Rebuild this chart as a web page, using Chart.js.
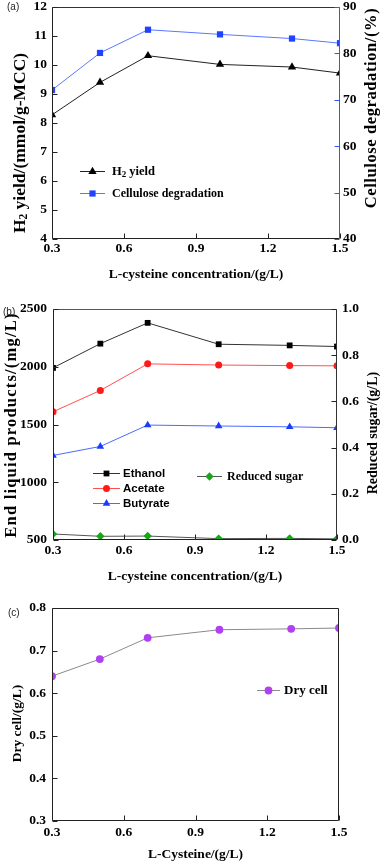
<!DOCTYPE html>
<html><head><meta charset="utf-8">
<script src="https://cdn.jsdelivr.net/npm/chart.js@4/dist/chart.umd.min.js"></script>
<style>
html,body{margin:0;padding:0;background:#fff;}
body{width:380px;height:863px;position:relative;overflow:hidden;}
canvas{position:absolute;left:0;display:block;}
</style></head><body>
<canvas id="cA" width="380" height="290" style="top:0px"></canvas>
<canvas id="cB" width="380" height="295" style="top:290px"></canvas>
<canvas id="cC" width="380" height="280" style="top:583px"></canvas>
<script>
// ---------- data ----------
const concentrations = [0.3, 0.5, 0.7, 1.0, 1.3, 1.5];
const xTickValues = [0.3, 0.6, 0.9, 1.2, 1.5];

const h2Yield = [8.28, 9.40, 10.32, 10.02, 9.93, 9.72];
const celluloseDegradation = [72.1, 80.1, 85.1, 84.1, 83.2, 82.2];
const h2Ticks = [4, 5, 6, 7, 8, 9, 10, 11, 12];
const degradationTicks = [40, 50, 60, 70, 80, 90];

const ethanol = [1990, 2200, 2380, 2195, 2185, 2175];
const acetate = [1610, 1795, 2025, 2015, 2010, 2008];
const butyrate = [1232, 1310, 1495, 1487, 1480, 1472];
const reducedSugar = [0.026, 0.016, 0.017, 0.006, 0.007, 0.005];
const liquidTicks = [500, 1000, 1500, 2000, 2500];
const sugarTicks = [0, 0.2, 0.4, 0.6, 0.8, 1.0];

const dryCell = [0.640, 0.680, 0.730, 0.749, 0.751, 0.753];
const dryCellTicks = [0.3, 0.4, 0.5, 0.6, 0.7, 0.8];

// ---------- helpers ----------
const SERIF = "'Liberation Serif', 'Times New Roman', serif";
const SANS = "'Liberation Sans', Arial, sans-serif";
const TICKFONT = {family: SERIF, size: 13.5, weight: 'bold', lineHeight: 1.2};
const XTITLEFONT = {family: SERIF, size: 13.5, weight: 'bold', lineHeight: 1.2};
const pts = arr => arr.map((v, i) => ({x: concentrations[i], y: v}));
const setTicks = arr => s => { s.ticks = arr.map(v => ({value: v})); };
const fixW = w => s => { s.width = w; s.paddingTop = 0; s.paddingBottom = 0; s.paddingLeft = 0; s.paddingRight = 0; };
const fixH = h => s => { s.height = h; s.paddingTop = 0; s.paddingBottom = 0; s.paddingLeft = 0; s.paddingRight = 0; };
const f1 = v => Number(v).toFixed(1);
const f0 = v => String(v);

function yScale(pos, min, max, arr, width, pad, fmt) {
  return {type: 'linear', position: pos, min, max,
    afterBuildTicks: setTicks(arr), afterFit: fixW(width),
    grid: {display: false, drawTicks: false}, border: {display: false},
    ticks: {padding: pad, color: '#000', font: TICKFONT, callback: fmt}};
}
function xScale(height, pad, title, titlePad) {
  return {type: 'linear', position: 'bottom', min: 0.3, max: 1.5,
    afterBuildTicks: setTicks(xTickValues), afterFit: fixH(height),
    grid: {display: false, drawTicks: false}, border: {display: false},
    ticks: {padding: pad, color: '#000', font: TICKFONT, callback: f1, maxRotation: 0, autoSkip: false},
    title: {display: true, text: title, color: '#000', font: XTITLEFONT, padding: {top: 0, bottom: titlePad}}};
}
function line(label, data, yAxisID, lineColor, markColor, style, radius) {
  return {label, data, yAxisID, borderColor: lineColor, backgroundColor: markColor,
    pointBackgroundColor: markColor, pointBorderColor: markColor, pointBorderWidth: 0,
    pointStyle: style, pointRadius: radius, pointHoverRadius: radius,
    borderWidth: 1, tension: 0, clip: 0, fill: false};
}

function drawRich(ctx, segs, x, y, align, spacing) {
  const sp = spacing || 0;
  if ('letterSpacing' in ctx) ctx.letterSpacing = sp + 'px';
  let total = 0;
  segs.forEach(s => { ctx.font = s.font; s.w = ctx.measureText(s.t).width; total += s.w; });
  let cx = align === 'center' ? x - total / 2 : x;
  ctx.textBaseline = 'middle';
  ctx.textAlign = 'left';
  segs.forEach(s => { ctx.font = s.font; ctx.fillText(s.t, cx, y + (s.dy || 0)); cx += s.w; });
  if ('letterSpacing' in ctx) ctx.letterSpacing = '0px';
}
function marker(ctx, style, r, x, y) {
  if (Chart.helpers && Chart.helpers.drawPoint) {
    Chart.helpers.drawPoint(ctx, {pointStyle: style, radius: r, borderWidth: 0, rotation: 0}, x, y);
    return;
  }
  ctx.beginPath();
  if (style === 'circle') ctx.arc(x, y, r, 0, Math.PI * 2);
  else if (style === 'rect') { const s = r * Math.SQRT1_2; ctx.rect(x - s, y - s, 2 * s, 2 * s); }
  else if (style === 'rectRot') { ctx.moveTo(x, y - r); ctx.lineTo(x + r, y); ctx.lineTo(x, y + r); ctx.lineTo(x - r, y); ctx.closePath(); }
  else if (style === 'triangle') { ctx.moveTo(x, y - r); ctx.lineTo(x + r * 0.866, y + r / 2); ctx.lineTo(x - r * 0.866, y + r / 2); ctx.closePath(); }
  ctx.fill();
}

const decor = {
  id: 'decor',
  afterDatasetsDraw(chart, args, o) {
    const ctx = chart.ctx, a = chart.chartArea;
    const L = Math.round(a.left) + 0.5, R = Math.round(a.right) - 0.5, T = Math.round(a.top) + 0.5, B = Math.round(a.bottom) - 0.5;
    ctx.save();
    ctx.lineWidth = 1;
    const sides = o.sides;
    const seg = (c, x1, y1, x2, y2) => { ctx.strokeStyle = c; ctx.beginPath(); ctx.moveTo(x1, y1); ctx.lineTo(x2, y2); ctx.stroke(); };
    seg(sides.top, L, T, R, T);
    seg(sides.bottom, L, B, R, B);
    seg(sides.left, L, T, L, B);
    seg(sides.right, R, T, R, B);
    (o.ticks || []).forEach(t => {
      const sc = chart.scales[t.scale];
      ctx.strokeStyle = t.color;
      sc.ticks.forEach(tk => {
        const p = Math.round(sc.getPixelForValue(tk.value)) + 0.5;
        ctx.beginPath();
        if (t.side === 'bottom') { ctx.moveTo(p, B); ctx.lineTo(p, B - 5); }
        else if (t.side === 'left') { ctx.moveTo(L, p); ctx.lineTo(L + 5, p); }
        else { ctx.moveTo(R, p); ctx.lineTo(R - 5, p); }
        ctx.stroke();
      });
    });
    ctx.restore();
  },
  afterDraw(chart, args, o) {
    const ctx = chart.ctx;
    ctx.save();
    ctx.fillStyle = '#000';
    (o.titles || []).forEach(t => {
      ctx.save();
      ctx.translate(t.x, t.y);
      ctx.rotate(t.rot);
      ctx.fillStyle = '#000';
      drawRich(ctx, t.segs, 0, 0, 'center', t.sp);
      ctx.restore();
    });
    (o.legend || []).forEach(it => {
      const ds = chart.data.datasets[it.ds];
      ctx.strokeStyle = ds.borderColor; ctx.lineWidth = 1;
      ctx.beginPath(); ctx.moveTo(it.x1, it.y + 0.5); ctx.lineTo(it.x2, it.y + 0.5); ctx.stroke();
      ctx.fillStyle = ds.pointBackgroundColor;
      marker(ctx, ds.pointStyle, ds.pointRadius, (it.x1 + it.x2) / 2, it.y + 0.5);
      ctx.fillStyle = '#000';
      drawRich(ctx, it.segs, it.tx, it.y + 0.5, 'left');
    });
    if (o.panel) {
      ctx.fillStyle = '#222';
      ctx.font = '10px ' + SANS;
      ctx.textBaseline = 'middle'; ctx.textAlign = 'left';
      ctx.fillText(o.panel.t, o.panel.x, o.panel.y);
    }
    ctx.restore();
  }
};

const common = (pad) => ({responsive: false, animation: false, devicePixelRatio: 1,
  layout: {padding: pad}, events: []});

// ---------- panel (a) ----------
const sf = (size) => 'bold ' + size + 'px ' + SERIF;
new Chart(document.getElementById('cA'), {
  type: 'line',
  data: {datasets: [
    line('H₂ yield', pts(h2Yield), 'y', '#222', '#000', 'triangle', 4.8),
    line('Cellulose degradation', pts(celluloseDegradation), 'y2', '#5a78ff', '#1f44ff', 'rect', 4.4)
  ]},
  plugins: [decor],
  options: Object.assign(common({top: 7, left: 0, right: 0, bottom: 0}), {
    scales: {
      x: xScale(51, 1, 'L-cysteine concentration/(g/L)', 7),
      y: yScale('left', 4, 12, h2Ticks, 52, 5, f0),
      y2: yScale('right', 40, 90, degradationTicks, 40, 3, f0)
    },
    plugins: {legend: {display: false}, tooltip: {enabled: false},
      decor: {
        sides: {top: '#333', bottom: '#222', left: '#222', right: '#3355ff'},
        ticks: [{scale: 'x', side: 'bottom', color: '#222'}, {scale: 'y', side: 'left', color: '#222'}, {scale: 'y2', side: 'right', color: '#3355ff'}],
        titles: [
          {x: 20, y: 143, rot: -Math.PI / 2, segs: [{t: 'H', font: sf(17.5)}, {t: '2', font: sf(11.5), dy: 4}, {t: ' yield/(mmol/g-MCC)', font: sf(17.5)}]},
          {x: 372, y: 108, rot: -Math.PI / 2, sp: 0.6, segs: [{t: 'Cellulose degradation/(%)', font: sf(16.5)}]}
        ],
        legend: [
          {ds: 0, x1: 80, x2: 105, y: 171, tx: 112, segs: [{t: 'H', font: sf(12.5)}, {t: '2', font: sf(9), dy: 3}, {t: ' yield', font: sf(12.5)}]},
          {ds: 1, x1: 80, x2: 105, y: 193, tx: 112, segs: [{t: 'Cellulose degradation', font: sf(12)}]}
        ],
        panel: {t: '(a)', x: 7, y: 7}
      }}
  })
});

// ---------- panel (b) ----------
const ssf = (size) => 'bold ' + size + 'px ' + SANS;
new Chart(document.getElementById('cB'), {
  type: 'line',
  data: {datasets: [
    line('Ethanol', pts(ethanol), 'y', '#333', '#000', 'rect', 4.1),
    line('Acetate', pts(acetate), 'y', '#ff5050', '#ff1a1a', 'circle', 3.5),
    line('Butyrate', pts(butyrate), 'y', '#4a6aff', '#1a3cff', 'triangle', 4.4),
    line('Reduced sugar', pts(reducedSugar), 'y2', '#555', '#1aa51a', 'rectRot', 4.2)
  ]},
  plugins: [decor],
  options: Object.assign(common({top: 19, left: 0, right: 0, bottom: 0}), {
    scales: {
      x: xScale(45, 2, 'L-cysteine concentration/(g/L)', 0),
      y: yScale('left', 500, 2500, liquidTicks, 53, 6, f0),
      y2: yScale('right', 0, 1.0, sugarTicks, 43, 5, f1)
    },
    plugins: {legend: {display: false}, tooltip: {enabled: false},
      decor: {
        sides: {top: '#555', bottom: '#222', left: '#222', right: '#333'},
        ticks: [{scale: 'x', side: 'bottom', color: '#222'}, {scale: 'y', side: 'left', color: '#222'}, {scale: 'y2', side: 'right', color: '#222'}],
        titles: [
          {x: 12, y: 135, rot: -Math.PI / 2, sp: 1.2, segs: [{t: 'End liquid products/(mg/L)', font: sf(16.5)}]},
          {x: 373, y: 143, rot: -Math.PI / 2, segs: [{t: 'Reduced sugar/(g/L)', font: sf(14)}]}
        ],
        legend: [
          {ds: 0, x1: 93, x2: 120, y: 183, tx: 123, segs: [{t: 'Ethanol', font: ssf(11.5)}]},
          {ds: 1, x1: 93, x2: 120, y: 198, tx: 123, segs: [{t: 'Acetate', font: ssf(11.5)}]},
          {ds: 2, x1: 93, x2: 120, y: 213, tx: 123, segs: [{t: 'Butyrate', font: ssf(11.5)}]},
          {ds: 3, x1: 197, x2: 222, y: 186, tx: 227, segs: [{t: 'Reduced sugar', font: sf(12)}]}
        ],
        panel: {t: '(b)', x: 3, y: 22}
      }}
  })
});

// ---------- panel (c) ----------
new Chart(document.getElementById('cC'), {
  type: 'line',
  data: {datasets: [
    line('Dry cell', pts(dryCell), 'y', '#8a8a8a', '#b040f2', 'circle', 3.9)
  ]},
  plugins: [decor],
  options: Object.assign(common({top: 25, left: 0, right: 41, bottom: 0}), {
    scales: {
      x: xScale(42, 3, 'L-Cysteine/(g/L)', 0),
      y: yScale('left', 0.3, 0.8, dryCellTicks, 52, 6, f1)
    },
    plugins: {legend: {display: false}, tooltip: {enabled: false},
      decor: {
        sides: {top: '#222', bottom: '#222', left: '#222', right: '#222'},
        ticks: [{scale: 'x', side: 'bottom', color: '#222'}, {scale: 'y', side: 'left', color: '#222'}],
        titles: [
          {x: 18, y: 140.5, rot: -Math.PI / 2, segs: [{t: 'Dry cell/(g/L)', font: sf(13.5)}]}
        ],
        legend: [
          {ds: 0, x1: 257, x2: 280, y: 107, tx: 284, segs: [{t: 'Dry cell', font: sf(13)}]}
        ],
        panel: {t: '(c)', x: 8, y: 30}
      }}
  })
});
</script>
</body></html>
